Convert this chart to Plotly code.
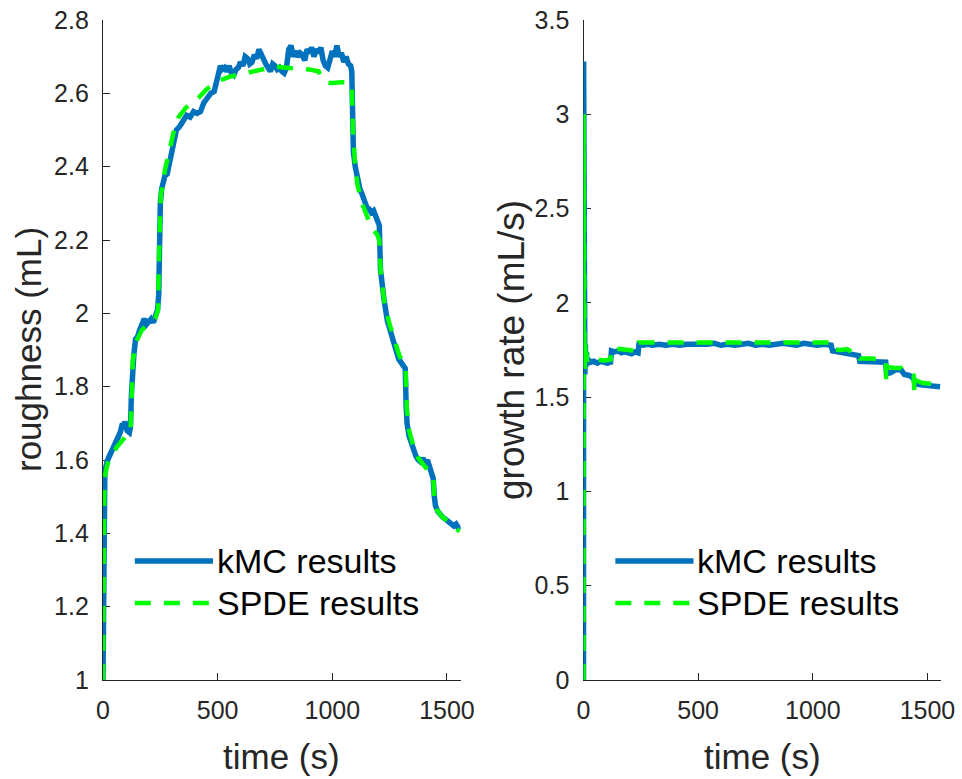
import plotly.graph_objects as go
from plotly.subplots import make_subplots

# ---------------- data ----------------
kmc_rough_t = [0, 2, 4, 8, 20, 30, 45, 60, 75, 85, 90, 95, 105, 115, 120, 124, 128, 135, 142, 150,
               160, 170, 180, 190, 200, 210, 220, 230, 238, 243, 246, 250, 256, 262, 270, 280, 290,
               300, 310, 320, 335, 350, 365, 380, 395, 410, 425, 440, 455, 470, 485, 495, 505, 512,
               520, 530, 540, 550, 560, 570, 580, 590, 600, 610, 620, 630, 640, 650, 660, 670, 680,
               690, 700, 710, 720, 730, 740, 750, 760, 770, 780, 790, 800, 810, 820, 830, 840, 850,
               860, 870, 880, 890, 900, 910, 920, 930, 940, 950, 960, 970, 980, 990, 1000, 1010,
               1020, 1030, 1040, 1050, 1060, 1070, 1080, 1085, 1088, 1092, 1100, 1110, 1120, 1130,
               1140, 1150, 1160, 1170, 1180, 1190, 1200, 1205, 1210, 1215, 1225, 1240, 1250, 1260,
               1270, 1280, 1290, 1300, 1310, 1318, 1322, 1326, 1335, 1345, 1355, 1365, 1375, 1385,
               1395, 1405, 1415, 1425, 1435, 1440, 1445, 1450, 1460, 1470, 1480, 1490, 1500, 1510,
               1520, 1530, 1540, 1550, 1555]
kmc_rough = [1.0, 1.35, 1.52, 1.57, 1.60, 1.615, 1.63, 1.655, 1.675, 1.70, 1.685, 1.705, 1.68, 1.675,
             1.69, 1.78, 1.85, 1.89, 1.93, 1.935, 1.955, 1.975, 1.985, 1.97, 1.98, 1.985, 1.975, 1.995,
             2.01, 2.05, 2.20, 2.30, 2.34, 2.36, 2.375, 2.38, 2.41, 2.44, 2.46, 2.50, 2.51, 2.525, 2.54,
             2.535, 2.55, 2.545, 2.55, 2.575, 2.59, 2.60, 2.605, 2.63, 2.67, 2.675, 2.665, 2.67, 2.66,
             2.675, 2.655, 2.65, 2.665, 2.67, 2.685, 2.675, 2.70, 2.695, 2.68, 2.685, 2.705, 2.695,
             2.72, 2.705, 2.69, 2.68, 2.67, 2.66, 2.68, 2.675, 2.665, 2.67, 2.66, 2.655, 2.67, 2.72,
             2.73, 2.70, 2.715, 2.70, 2.71, 2.705, 2.69, 2.72, 2.71, 2.725, 2.70, 2.72, 2.71, 2.725,
             2.69, 2.675, 2.67, 2.70, 2.715, 2.70, 2.73, 2.70, 2.71, 2.685, 2.70, 2.68, 2.675, 2.66,
             2.55, 2.44, 2.40, 2.365, 2.34, 2.325, 2.31, 2.29, 2.285, 2.275, 2.28, 2.26, 2.25, 2.24,
             2.12, 2.08, 2.04, 1.98, 1.955, 1.935, 1.92, 1.895, 1.875, 1.865, 1.855, 1.85, 1.75, 1.70,
             1.665, 1.645, 1.625, 1.61, 1.60, 1.595, 1.605, 1.59, 1.60, 1.575, 1.565, 1.55, 1.50,
             1.475, 1.46, 1.45, 1.445, 1.44, 1.435, 1.43, 1.425, 1.42, 1.425, 1.415, 1.41]

spde_rough_t = [0, 3, 6, 20, 40, 60, 80, 100, 120, 125, 130, 140, 150, 170, 190, 210, 230, 240, 246,
                252, 270, 290, 310, 330, 360, 390, 420, 450, 480, 510, 550, 600, 650, 700, 750, 800,
                850, 900, 940, 955, 970, 1000, 1040, 1075, 1085, 1090, 1100, 1110, 1130, 1150, 1170,
                1195, 1205, 1212, 1230, 1250, 1270, 1290, 1310, 1320, 1325, 1335, 1355, 1375, 1400,
                1420, 1440, 1445, 1455, 1480, 1510, 1540, 1555]
spde_rough = [1.0, 1.45, 1.55, 1.59, 1.615, 1.635, 1.65, 1.665, 1.675, 1.80, 1.87, 1.91, 1.93, 1.955,
              1.965, 1.975, 1.99, 2.01, 2.20, 2.32, 2.39, 2.45, 2.50, 2.535, 2.56, 2.575, 2.59, 2.61,
              2.625, 2.635, 2.645, 2.652, 2.66, 2.668, 2.673, 2.67, 2.668, 2.665, 2.66, 2.64, 2.63,
              2.628, 2.63, 2.63, 2.62, 2.50, 2.40, 2.35, 2.30, 2.265, 2.235, 2.215, 2.20, 2.10, 2.02,
              1.97, 1.925, 1.89, 1.86, 1.845, 1.74, 1.68, 1.635, 1.605, 1.585, 1.57, 1.555, 1.50,
              1.465, 1.445, 1.43, 1.415, 1.405]

kmc_rate_t = [0, 0.5, 1.5, 2.5, 3.5, 4.5, 6, 8, 10, 13, 16, 20, 30, 45, 60, 75, 90, 105, 118, 122,
              135, 150, 165, 180, 195, 210, 225, 238, 242, 260, 280, 300, 330, 360, 390, 420, 450,
              480, 510, 540, 570, 600, 630, 660, 690, 720, 750, 780, 810, 840, 870, 900, 930, 960,
              990, 1020, 1050, 1080, 1086, 1110, 1140, 1170, 1200, 1205, 1240, 1270, 1300, 1318,
              1322, 1340, 1360, 1385, 1400, 1420, 1440, 1445, 1470, 1500, 1530, 1555]
kmc_rate = [0, 3.28, 1.55, 2.05, 1.62, 1.95, 1.62, 1.78, 1.66, 1.74, 1.67, 1.70, 1.685, 1.69, 1.68,
            1.69, 1.685, 1.68, 1.685, 1.745, 1.74, 1.745, 1.735, 1.74, 1.735, 1.73, 1.74, 1.735, 1.78,
            1.775, 1.78, 1.775, 1.78, 1.775, 1.78, 1.775, 1.78, 1.78, 1.775, 1.78, 1.785, 1.775, 1.78,
            1.775, 1.78, 1.785, 1.775, 1.78, 1.775, 1.78, 1.785, 1.78, 1.775, 1.785, 1.78, 1.775,
            1.78, 1.775, 1.745, 1.74, 1.735, 1.725, 1.72, 1.69, 1.69, 1.685, 1.69, 1.685, 1.625,
            1.63, 1.645, 1.645, 1.62, 1.615, 1.60, 1.57, 1.565, 1.56, 1.555, 1.555]

spde_rate_t = [0, 0.5, 1.5, 2.5, 3.5, 5, 7, 9, 12, 16, 20, 30, 60, 90, 118, 122, 150, 180, 210, 238,
               242, 300, 400, 500, 600, 700, 800, 900, 1000, 1075, 1080, 1120, 1150, 1180, 1200,
               1205, 1260, 1300, 1318, 1320, 1325, 1360, 1385, 1400, 1440, 1443, 1448, 1480, 1520,
               1555]
spde_rate = [0, 3.0, 1.9, 1.62, 1.85, 1.65, 1.78, 1.68, 1.74, 1.69, 1.705, 1.695, 1.70, 1.695, 1.70,
             1.76, 1.755, 1.75, 1.745, 1.745, 1.79, 1.79, 1.79, 1.795, 1.79, 1.795, 1.79, 1.795, 1.79,
             1.79, 1.755, 1.75, 1.755, 1.73, 1.73, 1.705, 1.705, 1.70, 1.695, 1.59, 1.66, 1.655,
             1.655, 1.63, 1.615, 1.53, 1.59, 1.575, 1.57, 1.575]

series_names = ["kMC results", "SPDE results"]
x_ticks = [0, 500, 1000, 1500]
rough_ticks = [1, 1.2, 1.4, 1.6, 1.8, 2, 2.2, 2.4, 2.6, 2.8]
rate_ticks = [0, 0.5, 1, 1.5, 2, 2.5, 3, 3.5]
x_title = "time (s)"
y_titles = ["roughness (mL)", "growth rate (mL/s)"]

# ---------------- figure ----------------
BLUE = "#0072BD"
GREEN = "#00FF00"
FONT = "Liberation Sans, Arial, Helvetica, sans-serif"
AX = "#262626"

W, H = 962, 779
fig = make_subplots(rows=1, cols=2)

fig.add_trace(go.Scatter(x=kmc_rough_t, y=kmc_rough, mode="lines", name=series_names[0],
                         line=dict(color=BLUE, width=5.5), showlegend=False), row=1, col=1)
fig.add_trace(go.Scatter(x=spde_rough_t, y=spde_rough, mode="lines", name=series_names[1],
                         line=dict(color=GREEN, width=4.5, dash="16px,13px"), showlegend=False),
              row=1, col=1)
fig.add_trace(go.Scatter(x=kmc_rate_t, y=kmc_rate, mode="lines", name=series_names[0],
                         line=dict(color=BLUE, width=5.5), showlegend=False), row=1, col=2)
fig.add_trace(go.Scatter(x=spde_rate_t, y=spde_rate, mode="lines", name=series_names[1],
                         line=dict(color=GREEN, width=4.5, dash="16px,13px"), showlegend=False),
              row=1, col=2)

ydom = [(H - 680) / H, (H - 20) / H]
xdom1 = [103 / W, 460.7 / W]
xdom2 = [583.5 / W, 941.2 / W]

common_x = dict(range=[0, 1560], tickvals=x_ticks, ticks="inside", ticklen=7, tickwidth=1.3,
                tickcolor=AX, showline=True, linecolor=AX, linewidth=1.3, mirror=False,
                showgrid=False, zeroline=False, layer="below traces", automargin=False,
                tickfont=dict(family=FONT, size=25, color=AX), ticklabelstandoff=8)
common_y = dict(ticks="inside", ticklen=7, tickwidth=1.3, tickcolor=AX, showline=True,
                linecolor=AX, linewidth=1.3, mirror=False, showgrid=False, zeroline=False,
                layer="below traces", automargin=False,
                tickfont=dict(family=FONT, size=25, color=AX), ticklabelstandoff=8)

fig.update_xaxes(domain=xdom1, **common_x, row=1, col=1)
fig.update_xaxes(domain=xdom2, **common_x, row=1, col=2)
fig.update_yaxes(domain=ydom, range=[1, 2.8], tickvals=rough_ticks, **common_y, row=1, col=1)
fig.update_yaxes(domain=ydom, range=[0, 3.5], tickvals=rate_ticks, **common_y, row=1, col=2)

# axis titles (placed as text in paper coordinates)
ymid = (ydom[0] + ydom[1]) / 2
for xd in (xdom1, xdom2):
    fig.add_annotation(xref="paper", yref="paper", x=(xd[0] + xd[1]) / 2, y=(H - 756) / H,
                       text=x_title, showarrow=False, xanchor="center", yanchor="middle",
                       font=dict(family=FONT, size=35, color=AX))
fig.add_annotation(xref="paper", yref="paper", x=28 / W, y=ymid, text=y_titles[0],
                   textangle=-90, showarrow=False, xanchor="center", yanchor="middle",
                   font=dict(family=FONT, size=35, color=AX))
fig.add_annotation(xref="paper", yref="paper", x=511 / W, y=ymid, text=y_titles[1],
                   textangle=-90, showarrow=False, xanchor="center", yanchor="middle",
                   font=dict(family=FONT, size=37, color=AX))

# legend boxes (drawn in each subplot's domain coordinates)
styles = [dict(color=BLUE, width=5.5), dict(color=GREEN, width=4.5, dash="16px,13px")]
row_y = [0.1803, 0.1167]
for xa, ya in (("x", "y"), ("x2", "y2")):
    for name, st, yy in zip(series_names, styles, row_y):
        fig.add_shape(type="line", xref=f"{xa} domain", yref=f"{ya} domain",
                      x0=0.089, x1=0.3075, y0=yy, y1=yy, line=st)
        fig.add_annotation(xref=f"{xa} domain", yref=f"{ya} domain", x=0.313, y=yy,
                           text=name, showarrow=False, xanchor="left", yanchor="middle",
                           font=dict(family=FONT, size=34, color="#000000"))

fig.update_layout(width=W, height=H, margin=dict(l=0, r=0, t=0, b=0),
                  plot_bgcolor="white", paper_bgcolor="white", showlegend=False)

fig.write_html("out.html")
